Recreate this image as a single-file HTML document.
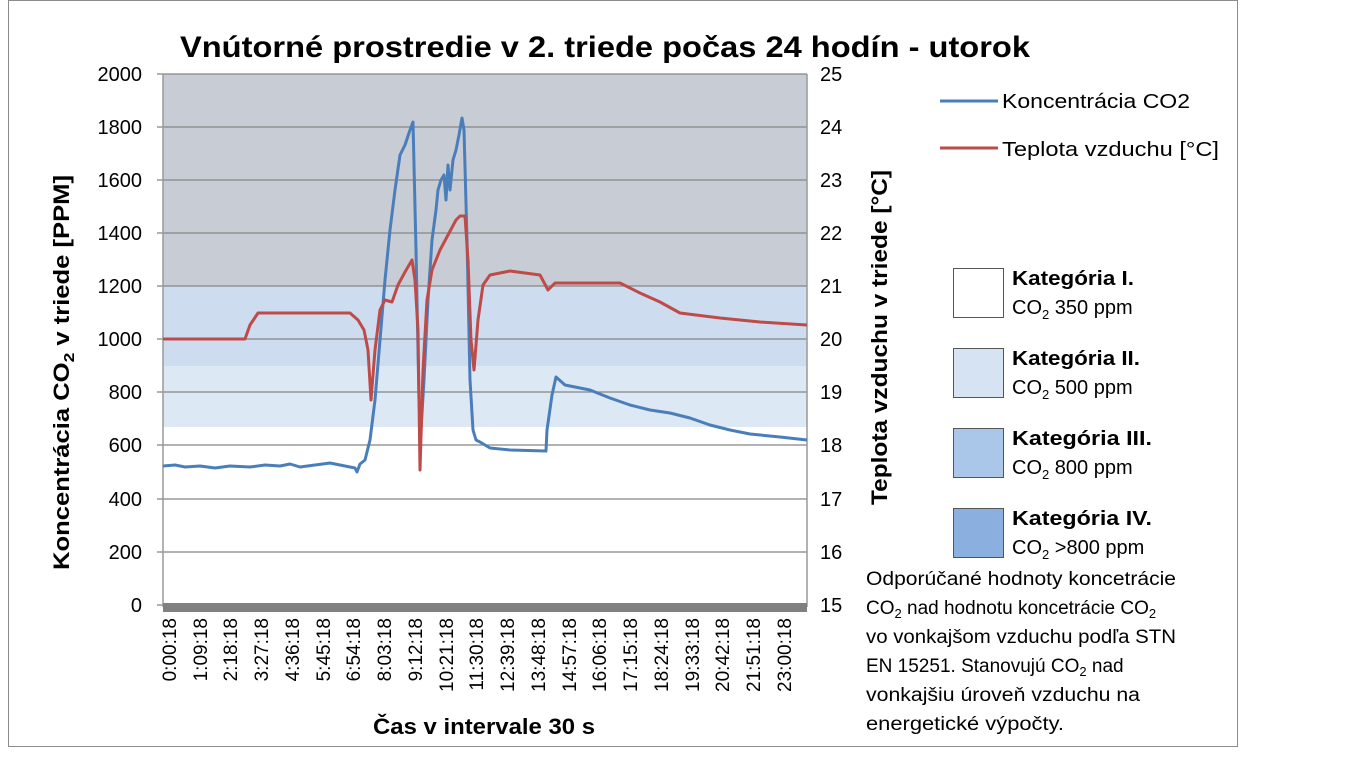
<!DOCTYPE html>
<html><head><meta charset="utf-8"><style>
body{margin:0;background:#fff;}
svg{display:block;font-family:"Liberation Sans",sans-serif;}
</style></head><body>
<svg width="1361" height="774" viewBox="0 0 1361 774">
<rect x="0" y="0" width="1361" height="774" fill="#fff"/>
<rect x="8.5" y="0.5" width="1229" height="746" fill="none" stroke="#8c8c8c"/>
<text x="180" y="57" font-size="30" font-weight="bold" textLength="850" lengthAdjust="spacingAndGlyphs" fill="#000">Vnútorné prostredie v 2. triede počas 24 hodín - utorok</text>
<rect x="163" y="74" width="644" height="212" fill="#c8ccd4"/>
<rect x="163" y="286" width="644" height="80" fill="#cddcef"/>
<rect x="163" y="366" width="644" height="61" fill="#dde8f5"/>
<g stroke="#858585" stroke-width="1.3">
<line x1="157" y1="74" x2="807" y2="74"/><line x1="157" y1="127" x2="807" y2="127"/><line x1="157" y1="180" x2="807" y2="180"/><line x1="157" y1="233" x2="807" y2="233"/><line x1="157" y1="286" x2="807" y2="286"/><line x1="157" y1="339" x2="807" y2="339"/><line x1="157" y1="392" x2="807" y2="392"/><line x1="157" y1="445" x2="807" y2="445"/><line x1="157" y1="499" x2="807" y2="499"/><line x1="157" y1="552" x2="807" y2="552"/><line x1="157" y1="605" x2="807" y2="605"/>
</g>
<line x1="163" y1="74" x2="163" y2="607" stroke="#999" stroke-width="1.5"/>
<line x1="807" y1="74" x2="807" y2="607" stroke="#999" stroke-width="1.5"/>
<rect x="163" y="603" width="644" height="9" fill="#808080"/>
<g font-size="20" text-anchor="end" fill="#000">
<text x="142" y="81">2000</text><text x="142" y="134">1800</text><text x="142" y="187">1600</text><text x="142" y="240">1400</text><text x="142" y="293">1200</text><text x="142" y="346">1000</text><text x="142" y="399">800</text><text x="142" y="452">600</text><text x="142" y="506">400</text><text x="142" y="559">200</text><text x="142" y="612">0</text>
</g>
<g font-size="20" fill="#000">
<text x="820" y="81">25</text><text x="820" y="134">24</text><text x="820" y="187">23</text><text x="820" y="240">22</text><text x="820" y="293">21</text><text x="820" y="346">20</text><text x="820" y="399">19</text><text x="820" y="452">18</text><text x="820" y="506">17</text><text x="820" y="559">16</text><text x="820" y="612">15</text>
</g>
<text transform="translate(69,570) rotate(-90)" font-size="22" font-weight="bold" textLength="395" lengthAdjust="spacingAndGlyphs">Koncentrácia CO<tspan font-size="15" dy="5">2</tspan><tspan dy="-5"> v triede [PPM]</tspan></text>
<text transform="translate(887,505) rotate(-90)" font-size="22" font-weight="bold" textLength="335" lengthAdjust="spacingAndGlyphs">Teplota vzduchu v triede [°C]</text>
<g font-size="19" fill="#000" text-anchor="end">
<text transform="translate(176,618) rotate(-90)">0:00:18</text>
<text transform="translate(207,618) rotate(-90)">1:09:18</text>
<text transform="translate(237,618) rotate(-90)">2:18:18</text>
<text transform="translate(268,618) rotate(-90)">3:27:18</text>
<text transform="translate(299,618) rotate(-90)">4:36:18</text>
<text transform="translate(330,618) rotate(-90)">5:45:18</text>
<text transform="translate(360,618) rotate(-90)">6:54:18</text>
<text transform="translate(391,618) rotate(-90)">8:03:18</text>
<text transform="translate(422,618) rotate(-90)">9:12:18</text>
<text transform="translate(453,618) rotate(-90)">10:21:18</text>
<text transform="translate(483,618) rotate(-90)">11:30:18</text>
<text transform="translate(514,618) rotate(-90)">12:39:18</text>
<text transform="translate(545,618) rotate(-90)">13:48:18</text>
<text transform="translate(576,618) rotate(-90)">14:57:18</text>
<text transform="translate(606,618) rotate(-90)">16:06:18</text>
<text transform="translate(637,618) rotate(-90)">17:15:18</text>
<text transform="translate(668,618) rotate(-90)">18:24:18</text>
<text transform="translate(699,618) rotate(-90)">19:33:18</text>
<text transform="translate(729,618) rotate(-90)">20:42:18</text>
<text transform="translate(760,618) rotate(-90)">21:51:18</text>
<text transform="translate(791,618) rotate(-90)">23:00:18</text>
</g>
<text x="373" y="734" font-size="22" font-weight="bold" textLength="222" lengthAdjust="spacingAndGlyphs">Čas v intervale 30 s</text>
<polyline fill="none" stroke="#4a7ebb" stroke-width="3" stroke-linejoin="round" points="163,466 175,465 185,467 200,466 215,468 230,466 250,467 265,465 280,466 290,464 300,467 315,465 330,463 345,466 355,468 357,472 360,464 365,460 370,440 375,400 380,340 385,280 390,230 395,190 400,155 405,145 410,130 413,122 416,250 419,400 421,430 424,380 428,300 432,240 436,210 438,190 441,180 444,175 446,200 448,165 450,190 453,160 456,150 459,135 462,118 464,130 467,240 470,380 473,430 476,440 480,442 490,448 510,450 546,451 547,430 552,395 556,377 565,385 590,390 610,398 630,405 650,410 670,413 690,418 710,425 730,430 750,434 780,437 807,440"/>
<polyline fill="none" stroke="#be4b48" stroke-width="3" stroke-linejoin="round" points="163,339 245,339 250,325 258,313 350,313 358,320 364,330 368,350 371,400 375,350 380,310 385,300 392,302 398,285 405,272 412,260 415,280 418,330 420,470 423,370 427,300 432,270 440,250 448,235 456,220 460,216 465,216 468,260 471,340 474,370 478,320 483,285 490,275 510,271 540,275 548,290 555,283 620,283 640,293 660,302 680,313 720,318 760,322 807,325"/>
<line x1="940" y1="101" x2="998" y2="101" stroke="#4a7ebb" stroke-width="3"/>
<text x="1002" y="108" font-size="20" textLength="188" lengthAdjust="spacingAndGlyphs">Koncentrácia CO2</text>
<line x1="940" y1="148" x2="998" y2="148" stroke="#be4b48" stroke-width="3"/>
<text x="1002" y="156" font-size="20" textLength="217" lengthAdjust="spacingAndGlyphs">Teplota vzduchu [°C]</text>
<g stroke="#555" stroke-width="1">
<rect x="953.5" y="268.5" width="50" height="49" fill="#fff"/>
<rect x="953.5" y="348.5" width="50" height="49" fill="#d6e3f3"/>
<rect x="953.5" y="428.5" width="50" height="49" fill="#aac6e8"/>
<rect x="953.5" y="508.5" width="50" height="49" fill="#8bb0df"/>
</g>
<g font-size="20">
<text x="1012" y="285" font-weight="bold" textLength="122" lengthAdjust="spacingAndGlyphs">Kategória I.</text><text x="1012" y="314">CO<tspan font-size="13" dy="5">2</tspan><tspan dy="-5"> 350 ppm</tspan></text>
<text x="1012" y="365" font-weight="bold" textLength="128" lengthAdjust="spacingAndGlyphs">Kategória II.</text><text x="1012" y="394">CO<tspan font-size="13" dy="5">2</tspan><tspan dy="-5"> 500 ppm</tspan></text>
<text x="1012" y="445" font-weight="bold" textLength="140" lengthAdjust="spacingAndGlyphs">Kategória III.</text><text x="1012" y="474">CO<tspan font-size="13" dy="5">2</tspan><tspan dy="-5"> 800 ppm</tspan></text>
<text x="1012" y="525" font-weight="bold" textLength="140" lengthAdjust="spacingAndGlyphs">Kategória IV.</text><text x="1012" y="554">CO<tspan font-size="13" dy="5">2</tspan><tspan dy="-5"> &gt;800 ppm</tspan></text>
</g>
<g font-size="19">
<text x="866" y="585" textLength="310" lengthAdjust="spacingAndGlyphs">Odporúčané hodnoty koncetrácie</text>
<text x="866" y="614">CO<tspan font-size="13" dy="4">2</tspan><tspan dy="-4"> nad hodnotu koncetrácie CO</tspan><tspan font-size="13" dy="4">2</tspan></text>
<text x="866" y="643" textLength="310" lengthAdjust="spacingAndGlyphs">vo vonkajšom vzduchu podľa STN</text>
<text x="866" y="672">EN 15251. Stanovujú CO<tspan font-size="13" dy="4">2</tspan><tspan dy="-4"> nad</tspan></text>
<text x="866" y="701" textLength="274" lengthAdjust="spacingAndGlyphs">vonkajšiu úroveň vzduchu na</text>
<text x="866" y="730" textLength="198" lengthAdjust="spacingAndGlyphs">energetické výpočty.</text>
</g>
</svg>
</body></html>
